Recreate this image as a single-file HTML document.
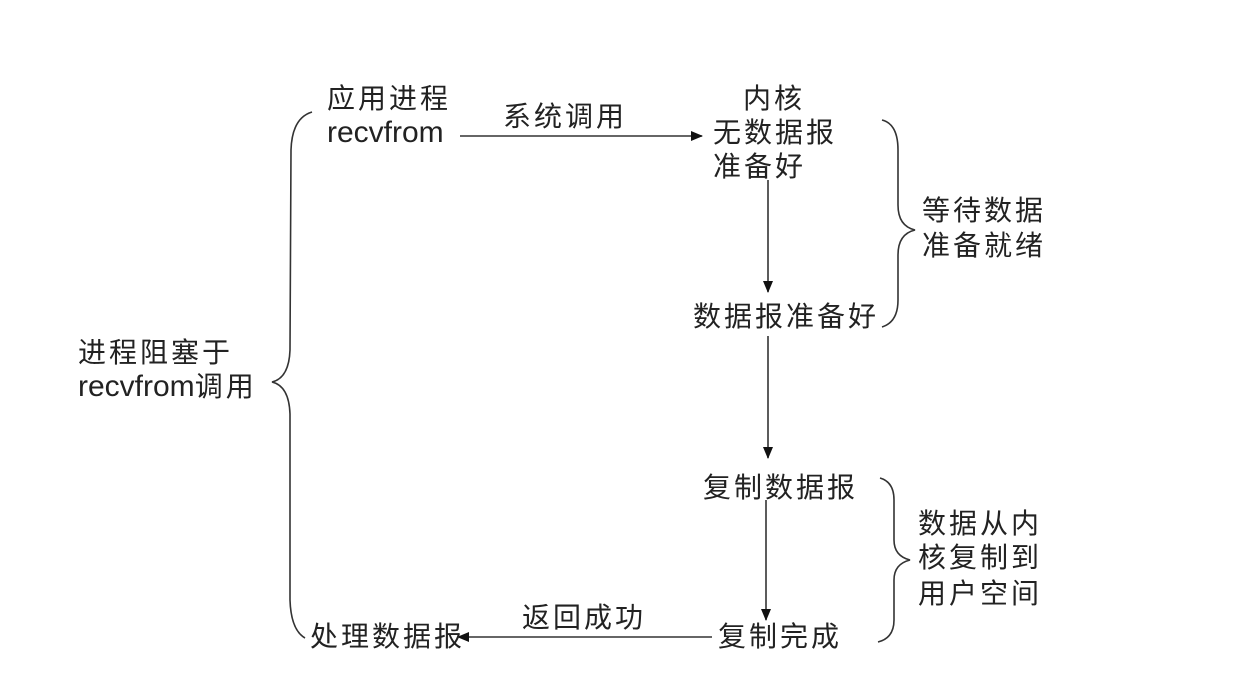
<!DOCTYPE html>
<html><head><meta charset="utf-8"><style>
html,body{margin:0;padding:0;background:#fff;}
svg text{font-family:"Liberation Sans","Noto Sans CJK SC",sans-serif;fill:#222;}
.c{font-size:28px;letter-spacing:3px;}
.e{font-size:30px;}
</style></head><body>
<svg width="1258" height="680" viewBox="0 0 1258 680" xmlns="http://www.w3.org/2000/svg">
<defs><marker id="a" markerWidth="12" markerHeight="10" refX="11" refY="5" orient="auto" markerUnits="userSpaceOnUse"><path d="M0,0 L12,5 L0,10 z" fill="#111"/></marker></defs>
<g stroke="#333" stroke-width="1.6" fill="none">
<line x1="460" y1="136" x2="702" y2="136" marker-end="url(#a)"/>
<line x1="768" y1="180" x2="768" y2="292" marker-end="url(#a)"/>
<line x1="768" y1="336" x2="768" y2="458" marker-end="url(#a)"/>
<line x1="766" y1="500" x2="766" y2="620" marker-end="url(#a)"/>
<line x1="712" y1="637" x2="458" y2="637" marker-end="url(#a)"/>
<path d="M312,112 Q292,118 291,150 L290,350 Q289,378 272,382 Q289,386 290,414 L290,600 Q291,630 305,638"/>
<path d="M882,120 Q898,124 898,150 L898,205 Q898,226 915,230 Q898,234 898,255 L898,300 Q898,322 882,327"/>
<path d="M880,478 Q894,482 894,500 L894,540 Q894,556 910,560 Q894,564 894,580 L894,620 Q894,638 878,642"/>
</g>
<text class="c" x="327" y="108">应用进程</text>
<text class="e" x="327" y="142">recvfrom</text>
<text class="c" x="503" y="126">系统调用</text>
<text class="c" x="743" y="108">内核</text>
<text class="c" x="713" y="142">无数据报</text>
<text class="c" x="713" y="176">准备好</text>
<text class="c" x="693" y="326">数据报准备好</text>
<text class="c" x="922" y="220">等待数据</text>
<text class="c" x="922" y="255">准备就绪</text>
<text class="c" x="78" y="362">进程阻塞于</text>
<text class="e" x="78" y="396">recvfrom<tspan class="c">调用</tspan></text>
<text class="c" x="703" y="497">复制数据报</text>
<text class="c" x="918" y="533">数据从内</text>
<text class="c" x="918" y="567">核复制到</text>
<text class="c" x="918" y="603">用户空间</text>
<text class="c" x="522" y="627">返回成功</text>
<text class="c" x="718" y="646">复制完成</text>
<text class="c" x="310" y="646">处理数据报</text>
</svg>
</body></html>
